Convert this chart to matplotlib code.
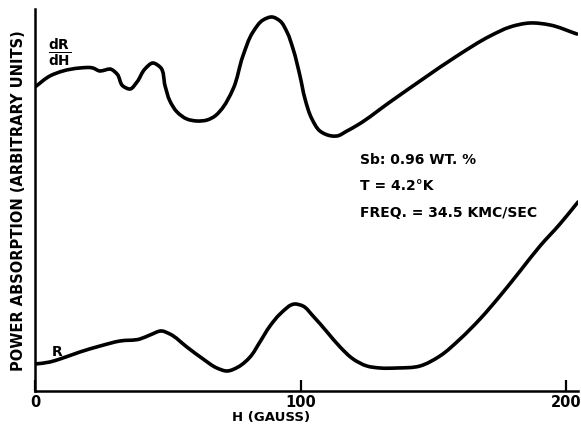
import matplotlib
matplotlib.use("Agg")
import matplotlib.pyplot as plt
import numpy as np
from matplotlib.path import Path
from matplotlib.patches import PathPatch

# field H (gauss) and signal (arbitrary units)
h_deriv = [0.0, 5.6, 10.5, 16.9, 21.8, 24.5, 26.4, 28.2, 30.9, 33.1, 35.8,
           38.4, 41.4, 44.4, 47.1, 49.0, 50.8, 53.5, 57.2, 61.0, 64.8, 67.8,
           69.7, 74.6, 78.3, 82.1, 85.9, 89.3, 92.3, 94.9, 97.2, 99.8, 101.7,
           104.3, 107.3, 111.9, 113.7, 117.5, 121.5, 133.7, 146.1, 158.9,
           171.4, 178.9, 186.4, 194.0, 204.1]
dr_dh = [304, 315, 320, 323, 323, 320, 321, 322, 317, 305, 302,
         309, 322, 328, 324, 305, 290, 279, 272, 270, 271, 275,
         280, 302, 335, 359, 371, 374, 370, 359, 342, 315, 292,
         272, 260, 255, 255, 260, 266, 289, 312, 335,
         355, 364, 368, 366, 357]

h_r = [0.0, 5.6, 9.4, 16.9, 24.5, 32.0, 39.5, 43.3, 47.8, 50.8, 57.2, 63.3,
       68.5, 72.3, 76.5, 81.0, 84.7, 88.5, 92.3, 97.9, 100.9, 104.7, 110.0,
       114.9, 119.8, 125.0, 129.9, 136.3, 145.0, 152.5, 160.1, 167.6, 175.1,
       182.7, 190.2, 197.7, 204.5]
r = [27, 29, 32, 39, 45, 50, 52, 56, 60, 57, 44, 32,
     23, 20, 24, 34, 49, 65, 77, 87, 85, 75, 59,
     44, 32, 25, 23, 23, 25, 35, 52, 72, 95,
     120, 145, 167, 189]

x_ticks = [0, 100, 200]
x_ticklabels = ["0", "100", "200"]
info_lines = ["Sb: 0.96 WT. %", "T = 4.2°K", "FREQ. = 34.5 KMC/SEC"]

PX_PER_GAUSS = 2.655  # to measure chord lengths on roughly equal scales


def smooth_curve(xs, ys):
    # hermite curve through the read points (Bessel tangents), as beziers
    pts = np.column_stack([xs, ys]).astype(float)
    scaled = pts * [PX_PER_GAUSS, 1.0]
    d = np.hypot(*np.diff(scaled, axis=0).T)
    n = len(pts)
    slopes = np.diff(pts, axis=0) / d[:, None]
    tang = np.zeros_like(pts)
    tang[0] = slopes[0]
    tang[-1] = slopes[-1]
    for i in range(1, n - 1):
        d0, d1 = d[i - 1], d[i]
        tang[i] = (slopes[i - 1] * d1 + slopes[i] * d0) / (d0 + d1)
    verts = [pts[0]]
    codes = [Path.MOVETO]
    for i in range(n - 1):
        dt = d[i]
        verts += [pts[i] + tang[i] * dt / 3, pts[i + 1] - tang[i + 1] * dt / 3,
                  pts[i + 1]]
        codes += [Path.CURVE4] * 3
    return Path(verts, codes)


W, H = 581, 427
fig = plt.figure(figsize=(W / 100, H / 100), dpi=100)
ax = fig.add_axes([35 / W, 35 / H, 543 / W, 382 / H])

for xs, ys in [(h_deriv, dr_dh), (h_r, r)]:
    ax.add_patch(PathPatch(smooth_curve(xs, ys), facecolor="none",
                           edgecolor="black", lw=2.6, joinstyle="round",
                           capstyle="round"))

ax.set_xlim(0, 204.5)
ax.set_ylim(0, 382)

for side in ["top", "right"]:
    ax.spines[side].set_visible(False)
for side in ["left", "bottom"]:
    ax.spines[side].set_linewidth(1.8)

ax.set_yticks([])
ax.set_xticks(x_ticks)
ax.set_xticklabels(x_ticklabels, fontsize=10.5, fontweight="bold")
ax.tick_params(axis="x", direction="in", length=8, width=1.6, pad=2)

# curve labels
ax.text(9.4, 339, r"$\frac{\mathbf{dR}}{\mathbf{dH}}$", fontsize=14,
        ha="center", va="center")
ax.text(8.3, 40, "R", fontsize=10, fontweight="bold", ha="center", va="center")

# sample info
for i, line in enumerate(info_lines):
    ax.text(122.4, 232 - i * 26.5, line, fontsize=10, fontweight="bold",
            ha="left", va="center")

fig.text(19 / W, 1 - 201 / H, "POWER ABSORPTION (ARBITRARY UNITS)",
         rotation=90, ha="center", va="center", fontsize=10.5,
         fontweight="bold")
fig.text(271 / W, 1 - 418 / H, "H (GAUSS)", ha="center", va="center",
         fontsize=9.5, fontweight="bold")

fig.savefig("out.png", dpi=100)
